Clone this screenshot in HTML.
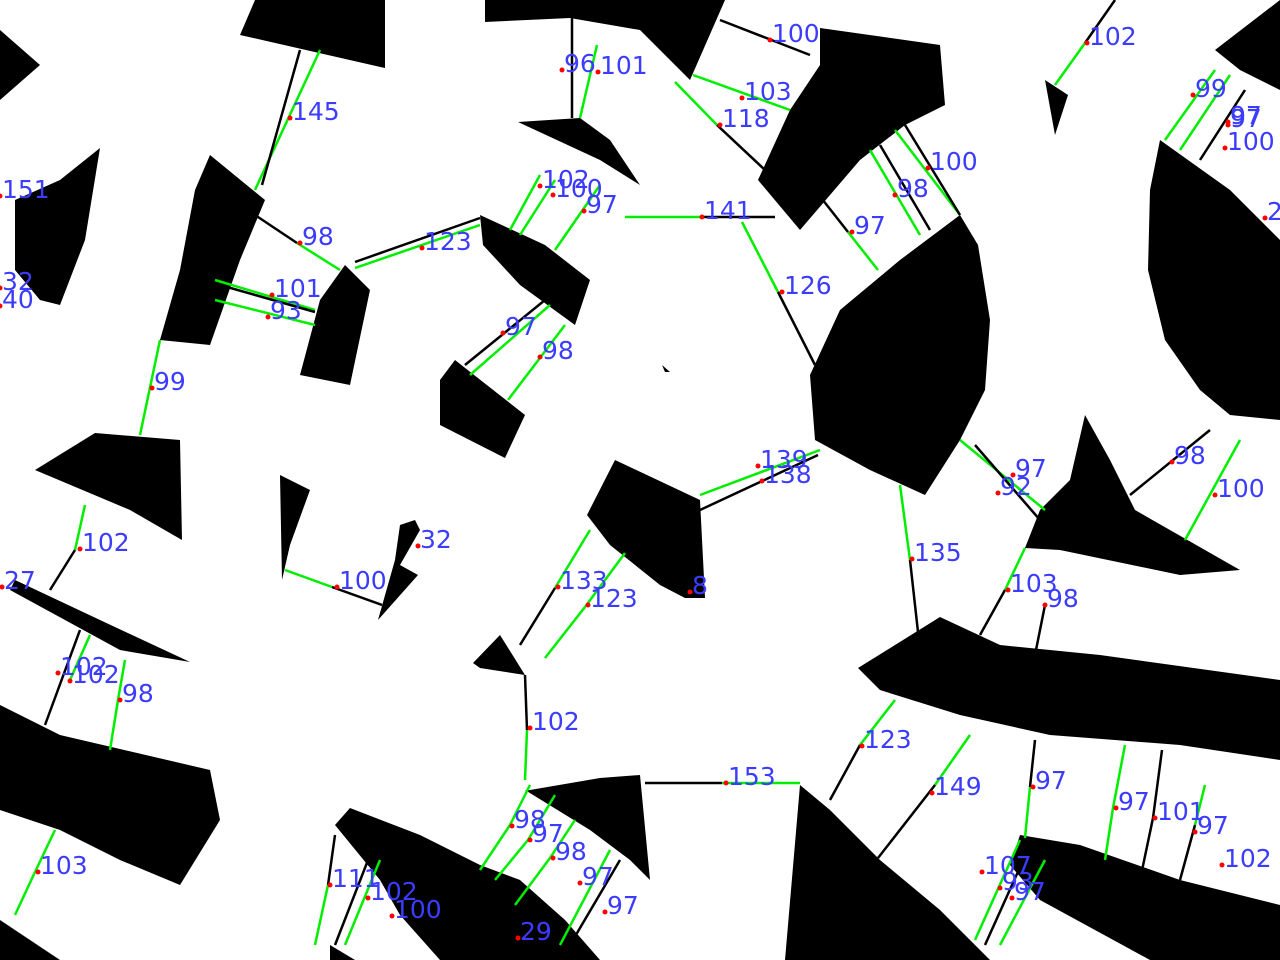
<!DOCTYPE html>
<html><head><meta charset="utf-8"><style>
html,body{margin:0;padding:0;background:#fff;width:1280px;height:960px;overflow:hidden}
svg{display:block}
text{font-family:"DejaVu Sans","Liberation Sans",sans-serif;font-size:25px;fill:#3c3cff}
</style></head><body>
<svg id="map" width="1280" height="960" viewBox="0 0 1280 960" xmlns="http://www.w3.org/2000/svg">
<rect width="1280" height="960" fill="#fff"/>
<g id="obstacles"></g>
<g id="segments"></g>
<g id="dots"></g>
<g id="labels"></g>
</svg>
<script>
const obstacles = [
 [[0,30],[40,65],[0,100]],
 [[255,0],[385,0],[385,68],[240,35]],
 [[485,0],[725,0],[690,80],[640,30],[570,18],[485,22]],
 [[820,28],[940,45],[945,105],[905,125],[860,160],[800,230],[758,180],[790,110],[820,65]],
 [[1215,50],[1280,0],[1280,90],[1240,70]],
 [[1045,80],[1068,95],[1055,135]],
 [[100,148],[85,240],[60,305],[40,300],[15,270],[15,200],[60,180]],
 [[210,155],[265,200],[240,260],[210,345],[160,340],[180,270],[195,190]],
 [[345,265],[370,290],[350,385],[300,375],[320,300]],
 [[518,122],[580,118],[610,140],[640,185],[600,160]],
 [[480,215],[545,245],[590,280],[575,325],[520,285],[483,245]],
 [[455,360],[525,415],[505,458],[440,425],[440,380]],
 [[960,215],[978,245],[990,320],[985,390],[960,440],[925,495],[870,470],[815,440],[810,375],[840,310],[900,260]],
 [[1160,140],[1230,190],[1280,240],[1280,420],[1230,415],[1200,390],[1165,340],[1148,270],[1150,190]],
 [[1085,415],[1110,460],[1135,510],[1240,570],[1180,575],[1060,550],[1025,548],[1040,510],[1070,480]],
 [[95,433],[180,440],[182,540],[130,510],[35,470]],
 [[280,475],[310,490],[290,545],[282,580]],
 [[615,460],[700,500],[705,598],[685,598],[660,585],[610,545],[587,515]],
 [[400,525],[415,520],[420,530],[400,565],[418,575],[378,620],[395,560]],
 [[15,580],[100,620],[190,662],[120,650],[10,590]],
 [[500,635],[525,675],[480,668],[473,663]],
 [[940,617],[1000,645],[1100,655],[1280,680],[1280,760],[1180,745],[1050,735],[960,715],[880,690],[858,668]],
 [[0,705],[60,735],[210,770],[220,820],[180,885],[120,860],[60,830],[0,810]],
 [[530,790],[600,778],[640,775],[650,880],[630,860],[590,830],[525,790]],
 [[350,808],[420,835],[480,865],[520,880],[565,920],[600,960],[440,960],[400,915],[380,880],[335,825]],
 [[800,785],[830,810],[880,860],[940,910],[970,940],[990,960],[785,960]],
 [[1020,835],[1080,845],[1180,880],[1280,905],[1280,960],[1150,960],[1040,900],[1010,865]],
 [[0,920],[60,960],[0,960]],
 [[330,945],[355,960],[330,960]],
 [[662,365],[670,372],[665,372]]
];
const segStart = [[572,18],[597,45],[720,20],[693,75],[675,82],[717,125],[1055,85],[1085,43],[1165,140],[1180,150],[1200,160],[625,217],[700,217],[742,222],[778,292],[815,190],[848,232],[870,150],[880,145],[895,130],[905,125],[320,50],[300,50],[255,215],[297,243],[355,268],[355,262],[215,280],[220,285],[215,300],[160,340],[510,230],[520,235],[555,250],[465,365],[470,375],[508,400],[700,495],[700,510],[900,485],[910,560],[960,440],[975,445],[1130,495],[1185,540],[1025,548],[1005,590],[1045,605],[85,505],[75,550],[285,570],[332,587],[590,530],[555,588],[625,553],[585,607],[525,675],[527,730],[645,783],[722,783],[830,800],[860,745],[970,735],[935,785],[1035,740],[1030,787],[1125,745],[1113,808],[1162,750],[1153,818],[1205,785],[1195,825],[90,635],[80,630],[125,660],[118,700],[55,830],[35,872],[335,835],[328,885],[380,860],[370,855],[530,785],[510,825],[555,795],[528,840],[575,820],[550,858],[620,860],[610,850],[1020,840],[1030,845],[1045,860]];
const segEnd = [[572,118],[580,118],[810,55],[790,110],[717,125],[765,170],[1085,43],[1115,0],[1215,70],[1230,75],[1245,90],[700,217],[775,217],[778,292],[815,365],[848,232],[878,270],[920,235],[930,230],[960,215],[960,215],[255,190],[262,185],[297,243],[340,270],[480,225],[480,218],[315,310],[315,312],[315,325],[140,435],[540,175],[555,180],[600,185],[545,300],[550,305],[565,325],[820,450],[818,455],[910,560],[918,632],[1045,510],[1040,520],[1210,430],[1240,440],[1005,590],[980,635],[1035,655],[75,550],[50,590],[332,587],[382,605],[555,588],[520,645],[585,607],[545,658],[527,730],[525,780],[722,783],[800,783],[860,745],[895,700],[935,785],[878,858],[1030,787],[1025,838],[1113,808],[1105,860],[1153,818],[1140,880],[1195,825],[1180,880],[70,680],[45,725],[118,700],[110,750],[35,872],[15,915],[328,885],[315,945],[345,945],[335,945],[510,825],[480,870],[528,840],[495,880],[550,858],[515,905],[570,945],[560,945],[975,940],[985,945],[1000,945]];
const segColor = ["k","g","k","g","g","k","g","k","g","g","k","g","k","g","k","k","g","g","k","g","k","g","k","k","g","g","k","g","k","g","g","g","g","g","k","g","g","g","k","g","k","g","k","k","g","g","k","k","g","k","g","k","g","k","g","g","k","g","k","g","k","g","g","k","k","g","g","g","k","k","g","k","g","k","g","g","g","g","k","g","g","k","g","g","g","g","g","g","k","g","g","k","g"];
const labelText = ["96","101","100","103","118","102","99","97","97","100","27","141","126","97","98","100","145","98","123","101","93","99","102","100","97","97","98","139","138","135","97","92","98","100","103","98","102","27","100","32","133","123","8","102","153","123","149","97","97","101","97","102","102","102","98","103","111","102","100","98","97","98","97","97","29","107","93","97","151","32","40"];
const labelPos = [[562,70],[598,72],[770,40],[742,98],[720,125],[1087,43],[1193,95],[1228,122],[1228,125],[1225,148],[1265,218],[702,217],[782,292],[852,232],[895,195],[928,168],[290,118],[300,243],[422,248],[272,295],[268,317],[152,388],[540,186],[553,195],[584,211],[503,333],[540,357],[758,466],[762,481],[912,559],[1013,475],[998,493],[1172,462],[1215,495],[1008,590],[1045,605],[80,549],[2,587],[337,587],[418,546],[558,587],[588,605],[690,592],[530,728],[726,783],[862,746],[932,793],[1033,787],[1116,808],[1155,818],[1195,832],[1222,865],[58,673],[70,681],[120,700],[38,872],[330,885],[368,898],[392,916],[512,826],[530,840],[553,858],[580,883],[605,912],[518,938],[982,872],[1000,888],[1012,898],[0,196],[0,288],[0,306]];
const colorMap = {g:"#00ee00", k:"#000000"};
const NS = "http://www.w3.org/2000/svg";
const gO = document.getElementById('obstacles');
obstacles.forEach(function(p, i){
  const el = document.createElementNS(NS,'polygon');
  el.setAttribute('points', p.map(function(q){return q.join(',');}).join(' '));
  el.setAttribute('fill','#000');
  
  
  gO.appendChild(el);
});
const gS = document.getElementById('segments');
segStart.forEach(function(s, i){
  const e = segEnd[i];
  const el = document.createElementNS(NS,'line');
  el.setAttribute('x1',s[0]); el.setAttribute('y1',s[1]);
  el.setAttribute('x2',e[0]); el.setAttribute('y2',e[1]);
  el.setAttribute('stroke', colorMap[segColor[i]] || '#000');
  el.setAttribute('stroke-width', 2.5);
  
  
  gS.appendChild(el);
});
const gD = document.getElementById('dots');
const gL = document.getElementById('labels');
labelPos.forEach(function(p, i){
  const c = document.createElementNS(NS,'circle');
  c.setAttribute('cx',p[0]); c.setAttribute('cy',p[1]); c.setAttribute('r',2.5);
  c.setAttribute('fill','#ff0000');
  
  
  gD.appendChild(c);
  const t = document.createElementNS(NS,'text');
  t.setAttribute('x', p[0]+2); t.setAttribute('y', p[1]+2);
  t.textContent = labelText[i];
  
  
  gL.appendChild(t);
});
</script>
</body></html>
